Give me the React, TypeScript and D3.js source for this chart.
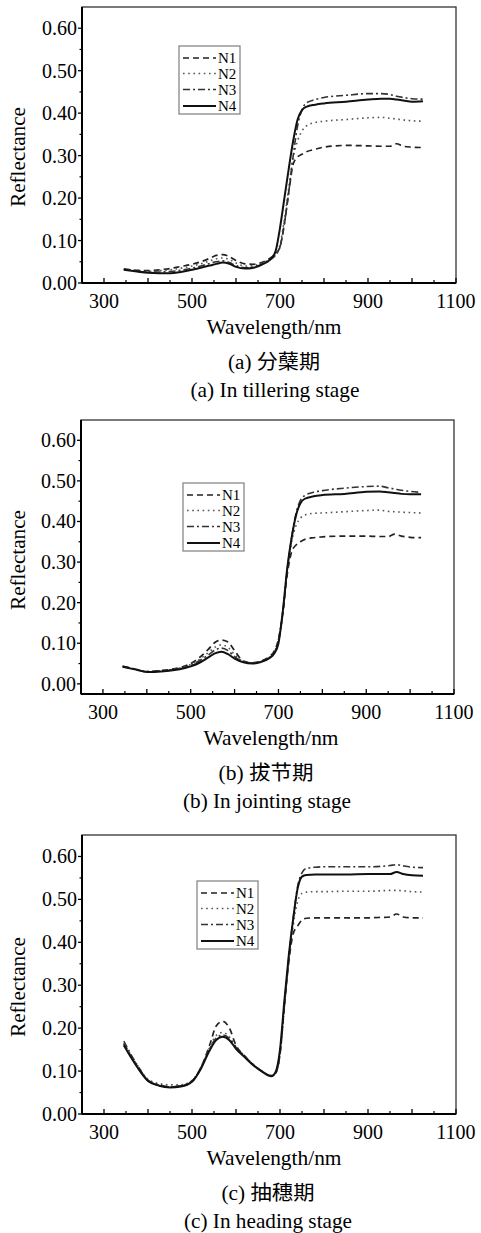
import React from "react";
import * as d3 from "d3";

// wavelength grid (nm) shared by all curves
const WAVELENGTHS = [
  345, 375, 400, 425, 450, 475, 500, 520, 540, 555, 570, 585, 600, 620, 640, 660, 680, 690,
  700, 710, 720, 730, 740, 750, 760, 780, 800, 850, 900, 930, 950, 965, 980, 1000, 1025,
];

// (a) tillering stage
const A_N1 = [0.033, 0.03, 0.029, 0.031, 0.034, 0.039, 0.044, 0.05, 0.058, 0.065, 0.067, 0.062, 0.053, 0.045, 0.044, 0.049, 0.06, 0.068, 0.085, 0.14, 0.215, 0.28, 0.297, 0.303, 0.309, 0.315, 0.32, 0.324, 0.323, 0.322, 0.322, 0.328, 0.322, 0.32, 0.319];
const A_N2 = [0.032, 0.029, 0.027, 0.029, 0.031, 0.035, 0.04, 0.045, 0.052, 0.057, 0.059, 0.055, 0.047, 0.04, 0.041, 0.047, 0.058, 0.068, 0.09, 0.15, 0.225, 0.295, 0.335, 0.358, 0.37, 0.378, 0.381, 0.385, 0.389, 0.39, 0.388, 0.386, 0.384, 0.382, 0.381];
const A_N3 = [0.033, 0.028, 0.026, 0.026, 0.027, 0.03, 0.035, 0.04, 0.046, 0.05, 0.052, 0.048, 0.041, 0.036, 0.038, 0.045, 0.056, 0.066, 0.085, 0.14, 0.215, 0.3, 0.37, 0.408, 0.424, 0.432, 0.437, 0.442, 0.446, 0.446, 0.444, 0.44, 0.437, 0.434, 0.433];
const A_N4 = [0.031, 0.027, 0.024, 0.023, 0.023, 0.026, 0.031, 0.036, 0.041, 0.045, 0.048, 0.045, 0.038, 0.034, 0.036, 0.044, 0.058, 0.075, 0.13, 0.2, 0.27, 0.335, 0.385, 0.407, 0.415, 0.42, 0.423, 0.427, 0.432, 0.434, 0.434, 0.432, 0.43, 0.427, 0.428];

// (b) jointing stage
const B_N1 = [0.043, 0.036, 0.03, 0.032, 0.035, 0.04, 0.05, 0.065, 0.085, 0.102, 0.108, 0.103, 0.082, 0.056, 0.052, 0.056, 0.068, 0.08, 0.11, 0.175, 0.27, 0.325, 0.342, 0.35, 0.356, 0.36, 0.362, 0.364, 0.364, 0.363, 0.363, 0.369, 0.364, 0.361, 0.36];
const B_N2 = [0.043, 0.036, 0.03, 0.032, 0.034, 0.039, 0.048, 0.06, 0.077, 0.09, 0.096, 0.09, 0.072, 0.055, 0.051, 0.055, 0.066, 0.077, 0.11, 0.18, 0.28, 0.35, 0.39, 0.408, 0.416, 0.42, 0.421, 0.424, 0.427, 0.428, 0.425, 0.424, 0.423, 0.422, 0.421];
const B_N3 = [0.043, 0.036, 0.03, 0.031, 0.033, 0.038, 0.046, 0.057, 0.071, 0.083, 0.088, 0.082, 0.067, 0.054, 0.051, 0.055, 0.065, 0.075, 0.105, 0.175, 0.28, 0.36, 0.42, 0.452, 0.464, 0.472, 0.476, 0.482, 0.486, 0.487, 0.483, 0.48, 0.477, 0.474, 0.472];
const B_N4 = [0.042, 0.035, 0.029, 0.03, 0.032, 0.036, 0.043, 0.052, 0.065, 0.075, 0.079, 0.073, 0.062, 0.053, 0.05, 0.054, 0.064, 0.074, 0.1, 0.18, 0.285, 0.36, 0.415, 0.445, 0.456, 0.462, 0.465, 0.468, 0.473, 0.474, 0.472, 0.47, 0.468, 0.467, 0.467];

// (c) heading stage
const C_N1 = [0.163, 0.112, 0.078, 0.067, 0.063, 0.065, 0.076, 0.108, 0.16, 0.205, 0.216, 0.2, 0.16, 0.135, 0.114, 0.099, 0.089, 0.095, 0.14, 0.25, 0.355, 0.42, 0.438, 0.452, 0.456, 0.457, 0.457, 0.457, 0.457, 0.458, 0.459, 0.466, 0.459, 0.457, 0.457];
const C_N2 = [0.165, 0.115, 0.081, 0.071, 0.068, 0.068, 0.078, 0.108, 0.155, 0.183, 0.19, 0.18, 0.157, 0.135, 0.115, 0.1, 0.09, 0.096, 0.14, 0.25, 0.355, 0.44, 0.495, 0.514, 0.517, 0.518, 0.518, 0.519, 0.519, 0.52, 0.521, 0.521, 0.52, 0.518, 0.517];
const C_N3 = [0.17, 0.115, 0.079, 0.068, 0.064, 0.066, 0.077, 0.107, 0.152, 0.177, 0.184, 0.176, 0.155, 0.134, 0.114, 0.099, 0.089, 0.095, 0.14, 0.255, 0.365, 0.455, 0.53, 0.562, 0.572, 0.575, 0.576, 0.576, 0.576, 0.577, 0.579, 0.581, 0.578, 0.575, 0.574];
const C_N4 = [0.16, 0.11, 0.077, 0.066, 0.062, 0.064, 0.075, 0.105, 0.148, 0.172, 0.18, 0.172, 0.152, 0.132, 0.113, 0.098, 0.088, 0.098, 0.15, 0.265, 0.37, 0.455, 0.525, 0.553, 0.557, 0.558, 0.558, 0.558, 0.559, 0.559, 0.559, 0.564, 0.559, 0.556, 0.555];

const SERIES_NAMES = ["N1", "N2", "N3", "N4"];
const X_TICK_LABELS = [300, 500, 700, 900, 1100];
const Y_TICK_LABELS = [0, 0.1, 0.2, 0.3, 0.4, 0.5, 0.6];
const CAPTIONS_CN = ["(a) 分蘖期", "(b) 拔节期", "(c) 抽穗期"];
const CAPTIONS_EN = ["(a) In tillering stage", "(b) In jointing stage", "(c) In heading stage"];

const STYLES = [
  { dash: "6,4", width: 1.7, color: "#222" },
  { dash: "1.6,3.6", width: 1.6, color: "#555" },
  { dash: "7,3,2,3", width: 1.6, color: "#333" },
  { dash: null, width: 2, color: "#111" },
];

const PANELS = [
  {
    series: [A_N1, A_N2, A_N3, A_N4], left: 82, right: 456, top: 7, bottom: 283, yMin: 0,
    legend: { x: 179, y: 46 }, yLabelY: 157, xLabelX: 274, cnX: 274, enX: 275, cnW: 92, enW: 169,
  },
  {
    series: [B_N1, B_N2, B_N3, B_N4], left: 81, right: 454, top: 420, bottom: 694, yMin: -0.025,
    legend: { x: 183, y: 483 }, yLabelY: 560, xLabelX: 271, cnX: 266, enX: 267, cnW: 95, enW: 168,
  },
  {
    series: [C_N1, C_N2, C_N3, C_N4], left: 82, right: 456, top: 835, bottom: 1114, yMin: 0,
    legend: { x: 197, y: 881 }, yLabelY: 987, xLabelX: 274, cnX: 268, enX: 268, cnW: 93, enW: 168,
  },
];

const FONT = "'Liberation Serif', 'Times New Roman', 'Noto Sans CJK SC', serif";

function Panel({ p, i }: { p: any; i: number }) {
  const x = d3.scaleLinear().domain([250, 1100]).range([p.left, p.right]);
  const y = d3.scaleLinear().domain([p.yMin, 0.65]).range([p.bottom, p.top]);
  const line = d3
    .line<number>()
    .x((_, k) => x(WAVELENGTHS[k]))
    .y((v) => y(v))
    .curve(d3.curveMonotoneX);

  const xMajor = d3.range(300, 1101, 100);
  const xMinor = d3.range(350, 1100, 100);
  const yMajor = d3.range(0, 0.61, 0.1);
  const yMinor = d3.range(0.05, 0.65, 0.1);
  const rowOffsets = [12, 27.5, 43.5, 60];

  return (
    <g>
      <rect x={p.left} y={p.top} width={p.right - p.left} height={p.bottom - p.top} fill="none" stroke="#333" strokeWidth={1.3} />
      {p.series.map((vals: number[], k: number) => (
        <path
          key={k}
          d={line(vals) || ""}
          fill="none"
          stroke={STYLES[k].color}
          strokeWidth={STYLES[k].width}
          strokeDasharray={STYLES[k].dash || undefined}
        />
      ))}
      <line x1={p.left} x2={p.right} y1={p.bottom} y2={p.bottom} stroke="#000" strokeWidth={2} />
      <line x1={p.left} x2={p.left} y1={p.top} y2={p.bottom} stroke="#000" strokeWidth={2} />
      {xMajor.map((t) => (
        <line key={"xM" + t} x1={x(t)} x2={x(t)} y1={p.bottom} y2={p.bottom - 5} stroke="#000" strokeWidth={1.3} />
      ))}
      {xMinor.map((t) => (
        <line key={"xm" + t} x1={x(t)} x2={x(t)} y1={p.bottom} y2={p.bottom - 3} stroke="#000" strokeWidth={1.2} />
      ))}
      {yMajor.map((t) => (
        <line key={"yM" + t} x1={p.left} x2={p.left - 4} y1={y(t)} y2={y(t)} stroke="#000" strokeWidth={1.3} />
      ))}
      {yMinor.map((t) => (
        <line key={"ym" + t} x1={p.left} x2={p.left - 2.5} y1={y(t)} y2={y(t)} stroke="#000" strokeWidth={1.2} />
      ))}
      {X_TICK_LABELS.map((t) => (
        <text key={"xl" + t} x={x(t)} y={p.bottom + 25} textAnchor="middle" fontSize={20}>
          {t}
        </text>
      ))}
      {Y_TICK_LABELS.map((t) => (
        <text key={"yl" + t} x={p.left - 5} y={y(t) + 7} textAnchor="end" fontSize={20}>
          {t.toFixed(2)}
        </text>
      ))}
      <text
        x={p.xLabelX}
        y={p.bottom + 51}
        textAnchor="middle"
        fontSize={21}
        textLength={135}
        lengthAdjust="spacingAndGlyphs"
      >
        Wavelength/nm
      </text>
      <text
        transform={`translate(25, ${p.yLabelY}) rotate(-90)`}
        textAnchor="middle"
        fontSize={21}
        textLength={100}
        lengthAdjust="spacingAndGlyphs"
      >
        Reflectance
      </text>
      <text
        x={p.cnX}
        y={p.bottom + 86}
        textAnchor="middle"
        fontSize={20}
        textLength={p.cnW}
        lengthAdjust="spacingAndGlyphs"
      >
        {CAPTIONS_CN[i]}
      </text>
      <text
        x={p.enX}
        y={p.bottom + 114}
        textAnchor="middle"
        fontSize={21}
        textLength={p.enW}
        lengthAdjust="spacingAndGlyphs"
      >
        {CAPTIONS_EN[i]}
      </text>
      <g transform={`translate(${p.legend.x}, ${p.legend.y})`}>
        <rect x={0} y={0} width={61} height={68} fill="#fff" stroke="#888" strokeWidth={1.3} />
        {SERIES_NAMES.map((name, k) => (
          <g key={name}>
            <line
              x1={4}
              x2={37}
              y1={rowOffsets[k]}
              y2={rowOffsets[k]}
              stroke={STYLES[k].color}
              strokeWidth={STYLES[k].width}
              strokeDasharray={STYLES[k].dash || undefined}
            />
            <text x={39} y={rowOffsets[k] + 5} fontSize={15}>
              {name}
            </text>
          </g>
        ))}
      </g>
    </g>
  );
}

export default function App() {
  return (
    <svg
      width={481}
      height={1233}
      style={{ position: "absolute", left: 0, top: 0, background: "#fff" }}
      fontFamily={FONT}
    >
      <rect width={481} height={1233} fill="#fff" />
      {PANELS.map((p, i) => (
        <Panel key={i} p={p} i={i} />
      ))}
    </svg>
  );
}
